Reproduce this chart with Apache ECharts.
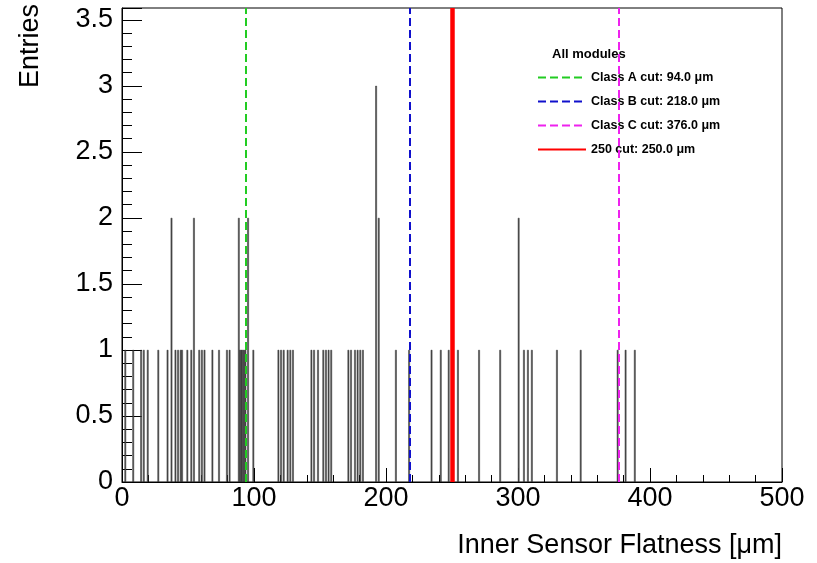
<!DOCTYPE html>
<html><head><meta charset="utf-8">
<script src="https://cdn.jsdelivr.net/npm/echarts@6/dist/echarts.min.js"></script>
<style>html,body{margin:0;padding:0;background:#fff}#c{width:817px;height:563px}</style>
</head><body><div id="c"></div>
<script>
// bin centers (µm, 1 µm bins) and entries
var binCenters = [2.5, 8.5, 14.5, 16.5, 19.5, 27.5, 34.5, 37.5, 40.5, 42.5, 44.5, 45.5, 49.5, 52.5, 54.5, 58.5, 60.5, 62.5, 68.5, 73.5, 79.5, 81.5,
  88.5, 89.5, 90.5, 91.5, 92.5, 93.5, 95.5, 99.5,
  118.5, 120.5, 122.5, 125.5, 127.5, 129.5, 143.5, 145.5, 148.5, 152.5, 154.5, 156.5, 158.5,
  171.5, 173.5, 176.5, 178.5, 180.5, 182.5, 192.5, 194.5,
  207.5, 217.5, 234.5, 241.5, 247.5, 254.5, 270.5, 286.5, 300.5, 304.5, 307.5, 310.5,
  329.5, 347.5, 375.5, 381.5, 388.5];
var entries = [1, 1, 1, 1, 1, 1, 1, 2, 1, 1, 1, 1, 1, 1, 2, 1, 1, 1, 1, 1, 1, 1,
  2, 1, 1, 1, 1, 1, 2, 1,
  1, 1, 1, 1, 1, 1, 1, 1, 1, 1, 1, 1, 1,
  1, 1, 1, 1, 1, 1, 3, 2,
  1, 1, 1, 1, 1, 1, 1, 1, 2, 1, 1, 1,
  1, 1, 1, 1, 1];
var cutNames = ['Class A cut: 94.0 \u03bcm', 'Class B cut: 218.0 \u03bcm', 'Class C cut: 376.0 \u03bcm', '250 cut: 250.0 \u03bcm'];
var cutValues = [94, 218, 376, 250];
var cutColors = ['#22cc22', '#1010cc', '#ee22ee', '#ff0000'];
var cutTypes = ['dashed', 'dashed', 'dashed', 'solid'];
var cutWidths = [2, 2, 2, 4.5];
var xTicks = [0, 100, 200, 300, 400, 500];
var yTickLabels = ['0', '0.5', '1', '1.5', '2', '2.5', '3', '3.5'];
var yMax = 3.59;

var FONT = '"Liberation Sans", Arial, Helvetica, sans-serif';
var chart = echarts.init(document.getElementById('c'), null, {renderer: 'canvas'});
var hist = binCenters.map(function (x, i) { return [x, entries[i]]; });
var series = [{
  type: 'bar', name: 'hist', data: hist, barWidth: 1.6,
  itemStyle: {color: '#5a5a5a', borderColor: '#111', borderWidth: 0.4},
  z: 2, silent: true
}];
cutValues.forEach(function (v, i) {
  series.push({
    type: 'line', name: cutNames[i], data: [], symbol: 'none',
    lineStyle: {color: cutColors[i], type: cutTypes[i], width: cutWidths[i]},
    itemStyle: {color: cutColors[i]},
    markLine: {
      silent: true, symbol: 'none', animation: false,
      label: {show: false},
      lineStyle: {color: cutColors[i], type: cutTypes[i], width: cutWidths[i]},
      data: [{xAxis: v}]
    },
    z: 3
  });
});
chart.setOption({
  animation: false,
  grid: {left: 122, right: 35, top: 8, bottom: 81, show: true, borderColor: '#000', borderWidth: 1},
  xAxis: {
    type: 'value', min: xTicks[0], max: xTicks[xTicks.length - 1], interval: 100,
    axisLine: {show: true, lineStyle: {color: '#000', width: 1}},
    axisTick: {show: true, inside: true, length: 14, lineStyle: {color: '#000'}},
    minorTick: {show: true, splitNumber: 5, length: 7, lineStyle: {color: '#000'}},
    splitLine: {show: false},
    axisLabel: {color: '#000', fontSize: 27, fontFamily: FONT, margin: 3}
  },
  yAxis: {
    type: 'value', min: 0, max: yMax, interval: 0.5,
    axisLine: {show: true, lineStyle: {color: '#000', width: 1}},
    axisTick: {show: true, inside: true, length: 20, lineStyle: {color: '#000'}},
    minorTick: {show: true, splitNumber: 5, length: 10, lineStyle: {color: '#000'}},
    splitLine: {show: false},
    axisLabel: {color: '#000', fontSize: 27, fontFamily: FONT, margin: 9,
      formatter: function (v) {
        var s = String(Math.round(v * 10) / 10);
        return yTickLabels.indexOf(s) >= 0 && Math.abs(v * 2 - Math.round(v * 2)) < 1e-6 ? s : '';
      }}
  },
  legend: {
    data: cutNames, orient: 'vertical', left: 532, top: 66,
    itemWidth: 48, itemHeight: 14, itemGap: 11,
    itemStyle: {opacity: 0},
    textStyle: {color: '#000', fontSize: 12.5, fontWeight: 'bold', fontFamily: FONT},
    selectedMode: false
  },
  graphic: [
    {type: 'text', left: 552, top: 48, style: {text: 'All modules', fill: '#000', font: 'bold 13px ' + FONT}},
    {type: 'text', right: 35, top: 532, style: {text: 'Inner Sensor Flatness [\u03bcm]', fill: '#000', font: '27px ' + FONT}},
    {type: 'text', left: 17, top: 4, rotation: Math.PI / 2, originX: 0, originY: 0,
      style: {text: 'Entries', fill: '#000', font: '27px ' + FONT, textAlign: 'right', textVerticalAlign: 'top'}}
  ],
  series: series
});
</script></body></html>
